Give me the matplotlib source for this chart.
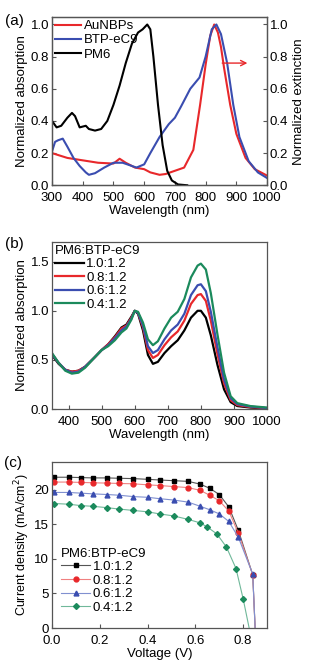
import matplotlib
matplotlib.use("Agg")
import matplotlib.pyplot as plt

plt.rcParams['font.family'] = ['Liberation Sans', 'DejaVu Sans']
plt.rcParams['font.size'] = 9.5

RED = '#e8282b'
BLUE = '#3a4db0'
GREEN = '#1b8a5c'
SPINE = '#555555'

# (a) normalized absorption / extinction
wl_au = [300, 350, 400, 450, 500, 520, 540, 570, 600, 620, 650, 670, 700, 730,
         760, 782, 800, 815, 828, 840, 850, 860, 880, 900, 930, 960, 1000]
abs_au = [0.20, 0.17, 0.155, 0.14, 0.135, 0.165, 0.14, 0.11, 0.10, 0.08, 0.065, 0.07,
          0.09, 0.11, 0.22, 0.50, 0.75, 0.93, 1.00, 0.95, 0.86, 0.73, 0.50, 0.32,
          0.17, 0.10, 0.06]

wl_btp = [300, 310, 320, 335, 350, 370, 390, 410, 420, 440, 470, 500, 530, 560, 575,
          600, 620, 650, 680, 700, 720, 750, 780, 800, 820, 835, 850, 870, 890, 910,
          940, 970, 1000]
abs_btp = [0.21, 0.27, 0.28, 0.29, 0.24, 0.17, 0.12, 0.08, 0.065, 0.075, 0.11, 0.14,
           0.14, 0.12, 0.11, 0.13, 0.20, 0.30, 0.38, 0.42, 0.49, 0.60, 0.67, 0.80,
           0.97, 1.00, 0.94, 0.76, 0.50, 0.30, 0.15, 0.08, 0.045]

wl_pm6 = [300, 315, 330, 350, 365, 375, 390, 410, 420, 440, 460, 480, 500, 520, 540,
          560, 580, 595, 610, 620, 630, 645, 660, 675, 690, 710, 740]
abs_pm6 = [0.40, 0.36, 0.37, 0.42, 0.45, 0.43, 0.36, 0.37, 0.35, 0.34, 0.35, 0.40,
           0.50, 0.62, 0.76, 0.88, 0.95, 0.97, 1.00, 0.97, 0.80, 0.50, 0.25, 0.09,
           0.03, 0.005, 0.0]

# (b) blend ratios
ratios = ['1.0:1.2', '0.8:1.2', '0.6:1.2', '0.4:1.2']
wl_b = [350, 370, 390, 410, 430, 450, 480, 500, 520, 540, 560, 575, 590, 600, 610,
        625, 640, 655, 670, 690, 710, 730, 750, 770, 790, 800, 815, 830, 850, 870,
        890, 910, 950, 1000]
abs_10 = [0.55, 0.46, 0.40, 0.38, 0.39, 0.43, 0.53, 0.60, 0.66, 0.74, 0.83, 0.86, 0.94,
          1.00, 0.97, 0.80, 0.55, 0.46, 0.48, 0.57, 0.64, 0.70, 0.80, 0.93, 1.00, 1.00,
          0.93, 0.75, 0.45, 0.20, 0.07, 0.03, 0.015, 0.005]
abs_08 = [0.56, 0.47, 0.40, 0.38, 0.39, 0.43, 0.53, 0.60, 0.66, 0.73, 0.82, 0.85, 0.93,
          1.00, 0.98, 0.83, 0.60, 0.52, 0.55, 0.65, 0.73, 0.79, 0.90, 1.07, 1.16, 1.17,
          1.10, 0.90, 0.56, 0.26, 0.09, 0.04, 0.02, 0.008]
abs_06 = [0.56, 0.47, 0.40, 0.37, 0.38, 0.43, 0.53, 0.60, 0.65, 0.72, 0.80, 0.84, 0.92,
          1.00, 0.98, 0.85, 0.64, 0.57, 0.60, 0.71, 0.80, 0.86, 0.97, 1.16, 1.26, 1.27,
          1.20, 0.99, 0.63, 0.30, 0.11, 0.05, 0.025, 0.01]
abs_04 = [0.57, 0.47, 0.39, 0.36, 0.37, 0.42, 0.53, 0.60, 0.64, 0.70, 0.78, 0.82, 0.91,
          1.00, 0.99, 0.88, 0.71, 0.65, 0.69, 0.82, 0.93, 0.99, 1.12, 1.34, 1.46, 1.48,
          1.42, 1.18, 0.76, 0.37, 0.13, 0.06, 0.03, 0.015]

# (c) J-V curves (last point is the zero crossing, drawn without marker)
v_a = [0.01, 0.07, 0.12, 0.17, 0.23, 0.28, 0.34, 0.40, 0.45, 0.51, 0.57, 0.62, 0.66,
       0.70, 0.74, 0.78, 0.84, 0.85]
j_10 = [21.8, 21.8, 21.75, 21.7, 21.7, 21.65, 21.6, 21.5, 21.4, 21.3, 21.2, 20.8, 20.2,
        19.3, 17.5, 14.1, 7.7, 0.0]
j_08 = [21.1, 21.1, 21.05, 21.0, 20.95, 20.9, 20.85, 20.7, 20.6, 20.45, 20.3, 19.9, 19.2,
        18.4, 16.9, 13.7, 7.7, 0.0]
j_06 = [19.6, 19.6, 19.5, 19.4, 19.3, 19.2, 19.0, 18.9, 18.7, 18.5, 18.2, 17.6, 17.1,
        16.5, 15.4, 13.1, 7.8, 0.0]
v_g = [0.01, 0.07, 0.12, 0.17, 0.23, 0.28, 0.34, 0.40, 0.45, 0.51, 0.57, 0.62, 0.65,
       0.69, 0.73, 0.77, 0.80, 0.825]
j_04 = [18.0, 17.9, 17.7, 17.6, 17.4, 17.2, 17.0, 16.8, 16.5, 16.2, 15.7, 15.2, 14.6,
        13.6, 11.7, 8.6, 4.2, 0.0]


def style_axis(ax):
    for sp in ax.spines.values():
        sp.set_color(SPINE)
        sp.set_linewidth(0.9)
    ax.tick_params(direction='in', length=3, width=0.8, color=SPINE, pad=2)
    ax.tick_params(axis='x', pad=5)


fig = plt.figure(figsize=(3.21, 6.64), dpi=100)
L, W = 0.162, 0.670

# ---- (a)
ax1 = fig.add_axes([L, 0.721, W, 0.253])
ax1.plot(wl_au, abs_au, color=RED, lw=1.5, label='AuNBPs')
ax1.plot(wl_btp, abs_btp, color=BLUE, lw=1.5, label='BTP-eC9')
ax1.plot(wl_pm6, abs_pm6, color='black', lw=1.5, label='PM6')
ax1.set_xlim(300, 1000)
ax1.set_ylim(0, 1.045)
ax1.set_xticks(range(300, 1001, 100))
ax1.set_yticks([0, 0.2, 0.4, 0.6, 0.8, 1.0])
ax1.set_xlabel('Wavelength (nm)', labelpad=0.5)
ax1.set_ylabel('Normalized absorption', labelpad=2)
ax1.legend(loc='upper left', frameon=False, handlelength=2.0, handletextpad=0.2,
           borderaxespad=0.1, borderpad=0.1, labelspacing=0.15)
ax1.annotate('', xy=(945, 0.76), xytext=(845, 0.76),
             arrowprops=dict(arrowstyle='->', color=RED, lw=1.0))
style_axis(ax1)
ax1r = ax1.twinx()
ax1r.set_ylim(0, 1.045)
ax1r.set_yticks([0, 0.2, 0.4, 0.6, 0.8, 1.0])
ax1r.set_ylabel('Normalized extinction', labelpad=3)
style_axis(ax1r)
fig.text(0.015, 0.962, '(a)', fontsize=11)

# ---- (b)
ax2 = fig.add_axes([L, 0.384, W, 0.2515])
for y, c, lab in zip([abs_10, abs_08, abs_06, abs_04], ['black', RED, BLUE, GREEN], ratios):
    ax2.plot(wl_b, y, color=c, lw=1.6, label=lab)
ax2.set_xlim(350, 1000)
ax2.set_ylim(0, 1.7)
ax2.set_xticks(range(400, 1001, 100))
ax2.set_yticks([0, 0.5, 1.0, 1.5])
ax2.set_xlabel('Wavelength (nm)', labelpad=0.5)
ax2.set_ylabel('Normalized absorption', labelpad=2)
leg2 = ax2.legend(loc='upper left', frameon=False, title='PM6:BTP-eC9',
                  title_fontsize=9.5, handlelength=2.2, handletextpad=0.2,
                  borderaxespad=0.1, borderpad=0.1, labelspacing=0.1)
leg2._legend_box.align = 'left'
style_axis(ax2)
fig.text(0.015, 0.626, '(b)', fontsize=11)

# ---- (c)
ax3 = fig.add_axes([L, 0.0542, W, 0.250])
jv = [(v_a, j_10, 'black', '#555555', 's'),
      (v_a, j_08, RED, '#f08080', 'o'),
      (v_a, j_06, BLUE, '#8090d0', '^'),
      (v_g, j_04, GREEN, '#70b89a', 'D')]
for (v, j, c, lc, m), lab in zip(jv, ratios):
    ax3.plot(v, j, color=lc, lw=0.8, marker=m, markersize=3.5 if m != 'D' else 3.0,
             markerfacecolor=c, markeredgecolor=c, markevery=slice(0, -1), label=lab)
ax3.set_xlim(0, 0.9)
ax3.set_ylim(0, 24)
ax3.set_xticks([0, 0.2, 0.4, 0.6, 0.8])
ax3.set_yticks([0, 5, 10, 15, 20])
ax3.set_xlabel('Voltage (V)', labelpad=0.5)
ax3.set_ylabel('Current density (mA/cm$^2$)', labelpad=2, fontsize=9)
leg3 = ax3.legend(loc='lower left', bbox_to_anchor=(0.03, 0.07), frameon=False,
                  title='PM6:BTP-eC9', title_fontsize=9.5, handlelength=2.2,
                  handletextpad=0.2, borderaxespad=0.1, borderpad=0.1, labelspacing=0.1)
leg3._legend_box.align = 'left'
style_axis(ax3)
fig.text(0.012, 0.297, '(c)', fontsize=11)

fig.savefig('out.png', dpi=100)
